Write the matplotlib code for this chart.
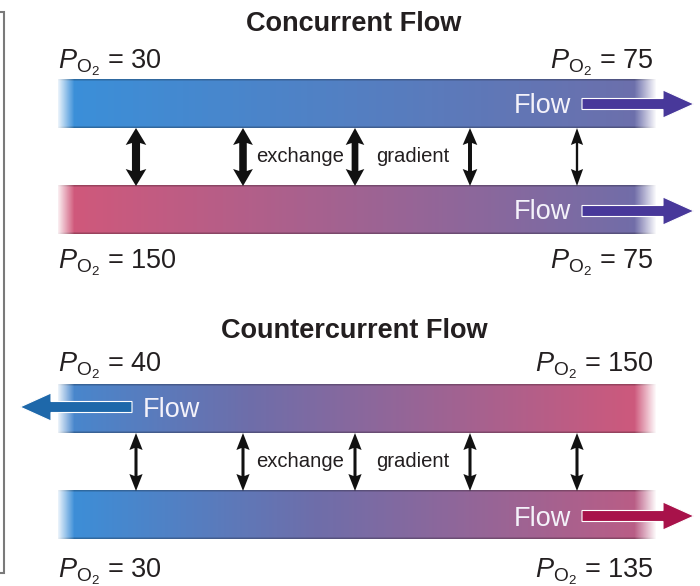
import numpy as np
import matplotlib
matplotlib.use("Agg")
import matplotlib.pyplot as plt
from matplotlib.colors import LinearSegmentedColormap, Normalize
from matplotlib.patches import Polygon

# ---------------- data ----------------
concurrent_top_po2 = [30, 75]        # water (left, right)
concurrent_bottom_po2 = [150, 75]    # blood (left, right)
counter_top_po2 = [40, 150]
counter_bottom_po2 = [30, 135]
concurrent_gradient = [120, 110, 95, 45, 15]   # exchange gradient strength at each arrow
counter_gradient = [28, 28, 28, 28, 28]
titles = ["Concurrent Flow", "Countercurrent Flow"]

# ---------------- style / layout ----------------
plt.rcParams['font.family'] = ['Liberation Sans', 'DejaVu Sans']
plt.rcParams['mathtext.fontset'] = 'custom'
plt.rcParams['mathtext.rm'] = 'Liberation Sans'
plt.rcParams['mathtext.it'] = 'Liberation Sans:italic'
plt.rcParams['mathtext.bf'] = 'Liberation Sans:bold'

TXT = '#231f20'
cmap = LinearSegmentedColormap.from_list(
    'po2', [(0.0, '#3a90da'), (0.375, '#6e6eaa'), (1.0, '#d2587a')])
norm = Normalize(30, 150)

arrow_x = [136, 243, 355, 470, 577]
BX0, BX1, BH = 58, 656, 49

fig = plt.figure(figsize=(7, 5.86), dpi=100)
ax = fig.add_axes([0, 0, 1, 1])


def band(y_top, po2):
    ncol = BX1 - BX0
    t = np.linspace(0, 1, ncol)
    vals = po2[0] + (po2[1] - po2[0]) * t
    rgba = cmap(norm(vals))
    rows = BH * 2
    img = np.tile(rgba[None, :, :], (rows, 1, 1))
    img[:3, :, :3] *= 0.75
    img[-3:, :, :3] *= 0.75
    px = np.arange(ncol)
    alpha = np.clip(0.12 + px / 18.0, 0, 1) * np.clip((ncol - px) / 22.0, 0, 1)
    img[:, :, 3] = alpha
    ax.imshow(img, extent=[BX0, BX1, y_top + BH, y_top], aspect='auto',
              interpolation='bilinear', zorder=1)


def double_arrow(x, y0, y1, g):
    sw = (1.5 + 0.055 * g) / 2
    hw = (11 + 0.08 * g) / 2
    hl = 17
    verts = [(x, y0), (x + hw, y0 + hl), (x + sw, y0 + hl - 2), (x + sw, y1 - hl + 2),
             (x + hw, y1 - hl), (x, y1), (x - hw, y1 - hl), (x - sw, y1 - hl + 2),
             (x - sw, y0 + hl - 2), (x - hw, y0 + hl)]
    ax.add_patch(Polygon(verts, closed=True, facecolor='#111111', edgecolor='none', zorder=3))


def flow_arrow(x_tail, x_tip, y, color):
    s = 1 if x_tip > x_tail else -1
    hl, sh, hh = 31, 5.5, 14
    xb = x_tip - s * hl
    verts = [(x_tail, y - sh), (xb, y - sh), (xb, y - hh), (x_tip, y),
             (xb, y + hh), (xb, y + sh), (x_tail, y + sh)]
    ax.add_patch(Polygon(verts, closed=True, facecolor=color, edgecolor='none',
                         zorder=4))
    ax.add_patch(Polygon(verts, closed=True, facecolor='none', edgecolor='white',
                         lw=0.8, zorder=4.5))


def po2_label(x, y, val, ha):
    ax.text(x, y, rf"$P_{{\mathrm{{O}}_2}}$ = {val}", ha=ha, va='baseline',
            fontsize=19.5, color=TXT, zorder=5)


def flow_text(x, y, ha='left'):
    ax.text(x, y, "Flow", ha=ha, va='baseline', fontsize=19.5, color='#f4f2fa', zorder=5)


# ---- Concurrent ----
ax.text(354, 31, titles[0], ha='center', va='baseline', fontsize=19.5,
        fontweight='bold', color=TXT)
po2_label(58, 68, concurrent_top_po2[0], 'left')
po2_label(654, 68, concurrent_top_po2[1], 'right')
band(79, concurrent_top_po2)
band(185, concurrent_bottom_po2)
for x, g in zip(arrow_x, concurrent_gradient):
    double_arrow(x, 128, 186, g)
ax.text(300, 162, "exchange", ha='center', va='baseline', fontsize=14.6, color=TXT)
ax.text(413, 162, "gradient", ha='center', va='baseline', fontsize=14.6, color=TXT)
flow_text(514, 113)
flow_arrow(582, 694, 104, '#48389a')
flow_text(514, 219)
flow_arrow(582, 694, 211, '#48389a')
po2_label(58, 268, concurrent_bottom_po2[0], 'left')
po2_label(654, 268, concurrent_bottom_po2[1], 'right')

# ---- Countercurrent ----
ax.text(354, 338, titles[1], ha='center', va='baseline', fontsize=19.5,
        fontweight='bold', color=TXT)
po2_label(58, 371, counter_top_po2[0], 'left')
po2_label(654, 371, counter_top_po2[1], 'right')
band(384, counter_top_po2)
band(490, counter_bottom_po2)
for x, g in zip(arrow_x, counter_gradient):
    double_arrow(x, 433, 491, g)
ax.text(300, 467, "exchange", ha='center', va='baseline', fontsize=14.6, color=TXT)
ax.text(413, 467, "gradient", ha='center', va='baseline', fontsize=14.6, color=TXT)
flow_arrow(132, 20, 407, '#1e68aa')
flow_text(143, 417)
flow_arrow(582, 694, 516, '#a8124a')
flow_text(514, 526)
po2_label(58, 577, counter_bottom_po2[0], 'left')
po2_label(654, 577, counter_bottom_po2[1], 'right')

# left frame edge
ax.plot([0, 4, 4, 0], [12, 12, 573, 573], color='#7a7a7a', lw=1.5,
        solid_joinstyle='miter', zorder=2)

ax.set_xlim(0, 700)
ax.set_ylim(586, 0)
ax.axis('off')
fig.savefig("out.png", dpi=100)
